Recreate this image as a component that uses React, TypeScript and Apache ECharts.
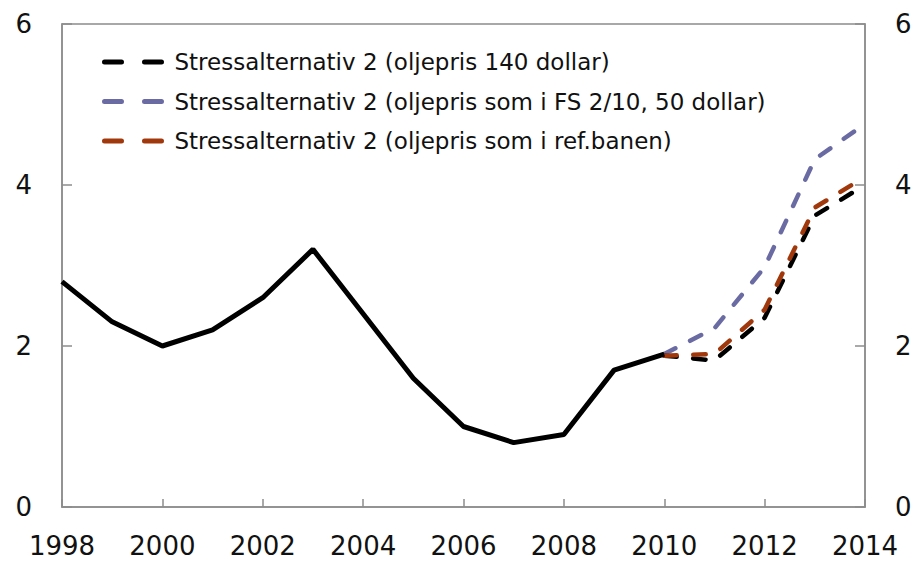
import React, { useEffect, useRef } from "react";
import * as echarts from "echarts";

const histYears = [1998, 1999, 2000, 2001, 2002, 2003, 2004, 2005, 2006, 2007, 2008, 2009, 2010];
const histValues = [2.8, 2.3, 2.0, 2.2, 2.6, 3.2, 2.4, 1.6, 1.0, 0.8, 0.9, 1.7, 1.9];

const projYears = [2010, 2011, 2012, 2013, 2014];
const oil140 = [1.88, 1.82, 2.35, 3.62, 4.0];
const oilFS = [1.9, 2.22, 2.98, 4.32, 4.76];
const oilRef = [1.88, 1.9, 2.45, 3.72, 4.1];

const legendNames = [
  "Stressalternativ 2 (oljepris 140 dollar)",
  "Stressalternativ 2 (oljepris som i FS 2/10, 50 dollar)",
  "Stressalternativ 2 (oljepris som i ref.banen)",
];

const FONT = "DejaVu Sans";
const AXIS_GRAY = "#8c8c8c";

const pairs = (xs: number[], ys: number[]) => xs.map((x, i) => [x, ys[i]]);

export default function App() {
  const ref = useRef<HTMLDivElement>(null);
  useEffect(() => {
    if (!ref.current) return;
    const chart = echarts.init(ref.current, undefined, { renderer: "svg" });
    const dash = [12.5, 16.5];
    const dashedSeries = (name: string, data: number[], color: string) => ({
      name,
      type: "line",
      data: pairs(projYears, data),
      symbol: "none",
      showSymbol: false,
      lineStyle: { color, width: 4.5, type: dash, cap: "round" },
      itemStyle: { color },
      z: 3,
    });
    chart.setOption({
      animation: false,
      backgroundColor: "#ffffff",
      grid: {
        left: 62,
        right: 53,
        top: 24,
        bottom: 57,
        show: true,
        borderColor: AXIS_GRAY,
        borderWidth: 1.5,
        containLabel: false,
      },
      legend: {
        orient: "vertical",
        left: 97,
        top: 44,
        itemWidth: 60,
        itemHeight: 10,
        itemGap: 13.5,
        data: legendNames,
        itemStyle: { opacity: 0 },
        lineStyle: { type: [17, 23], width: 5, cap: "round" },
        textStyle: {
          fontFamily: FONT,
          fontSize: 23,
          color: "#111111",
          lineHeight: 26,
          padding: [0, 0, 0, 5],
        },
      },
      xAxis: {
        type: "value",
        min: 1998,
        max: 2014,
        interval: 2,
        axisLine: { show: true, lineStyle: { color: AXIS_GRAY, width: 1.5 } },
        axisTick: { show: true, inside: true, length: 8, lineStyle: { color: AXIS_GRAY, width: 1.5 } },
        splitLine: { show: false },
        axisLabel: {
          fontFamily: FONT,
          fontSize: 26,
          color: "#111111",
          margin: 26,
          formatter: (v: number) => String(v),
        },
      },
      yAxis: [
        {
          type: "value",
          min: 0,
          max: 6,
          interval: 2,
          position: "left",
          axisLine: { show: true, lineStyle: { color: AXIS_GRAY, width: 1.5 } },
          axisTick: { show: true, inside: true, length: 10, lineStyle: { color: AXIS_GRAY, width: 1.5 } },
          splitLine: { show: false },
          axisLabel: { fontFamily: FONT, fontSize: 26, color: "#111111", margin: 30 },
        },
        {
          type: "value",
          min: 0,
          max: 6,
          interval: 2,
          position: "right",
          axisLine: { show: true, lineStyle: { color: AXIS_GRAY, width: 1.5 } },
          axisTick: { show: true, inside: true, length: 10, lineStyle: { color: AXIS_GRAY, width: 1.5 } },
          splitLine: { show: false },
          axisLabel: { fontFamily: FONT, fontSize: 26, color: "#111111", margin: 30 },
        },
      ],
      series: [
        {
          name: "Historisk",
          type: "line",
          data: pairs(histYears, histValues),
          symbol: "none",
          lineStyle: { color: "#000000", width: 5 },
          z: 4,
        },
        dashedSeries(legendNames[1], oilFS, "#6b6ba3"),
        dashedSeries(legendNames[0], oil140, "#000000"),
        dashedSeries(legendNames[2], oilRef, "#a0380c"),
      ],
    });
    return () => chart.dispose();
  }, []);
  return (
    <div
      ref={ref}
      style={{ position: "fixed", left: 0, top: 0, width: 918, height: 564, background: "#fff" }}
    />
  );
}
